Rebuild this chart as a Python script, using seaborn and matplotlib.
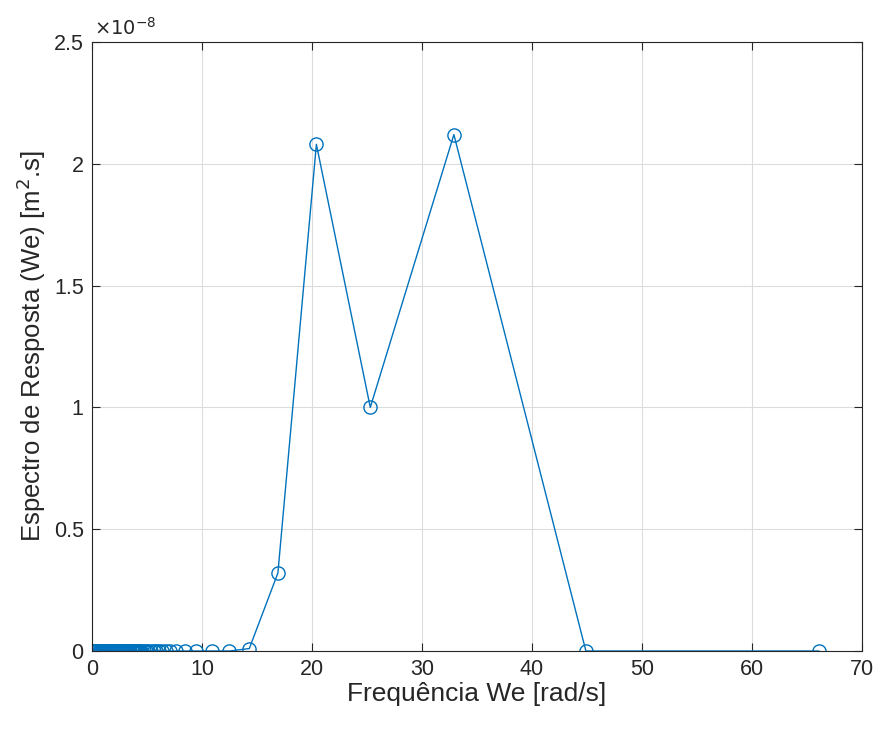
import matplotlib
matplotlib.use("Agg")
import matplotlib.pyplot as plt
import seaborn as sns
import pandas as pd
from matplotlib.ticker import FuncFormatter

# Encounter frequencies [rad/s]
freq_we = [0.1, 0.2, 0.3, 0.4, 0.5, 0.6, 0.7, 0.8, 0.9, 1.0, 1.1, 1.2, 1.3,
           1.4, 1.5, 1.6, 1.7, 1.8, 1.9, 2.0, 2.1, 2.2, 2.3, 2.4, 2.5, 2.6,
           2.7, 2.8, 2.9, 3.0, 3.1, 3.2, 3.3, 3.4, 3.5, 3.6, 3.7, 3.8, 3.9,
           4.0, 4.1, 4.2, 4.3, 4.4, 4.5, 4.7, 4.9, 5.1, 5.35, 5.6, 5.85, 6.1,
           6.4, 6.7, 7.1, 7.6, 8.5, 9.5, 10.9, 12.5, 14.3, 16.9, 20.4, 25.3,
           32.9, 44.9, 66.1]

# Response spectrum [m^2.s]
spectrum = [0.0] * 60 + [0.01e-8, 0.32e-8, 2.08e-8, 1.00e-8, 2.12e-8, 0.0, 0.0]

x_ticks = [0, 10, 20, 30, 40, 50, 60, 70]
y_ticks = [0, 0.5e-8, 1.0e-8, 1.5e-8, 2.0e-8, 2.5e-8]

line_color = "#0072BD"
text_color = "#262626"

sns.set_theme(style="white")
plt.rcParams["font.family"] = ["Liberation Sans", "DejaVu Sans"]

fig = plt.figure(figsize=(8.82, 7.29), dpi=100)
ax = fig.add_axes([0.1043, 0.107, 0.8730, 0.8354])

df = pd.DataFrame({"we": freq_we, "S": spectrum})
sns.lineplot(data=df, x="we", y="S", ax=ax, sort=False, estimator=None,
             color=line_color, linewidth=1.0, marker="o", markersize=9.5,
             markerfacecolor="none", markeredgecolor=line_color,
             markeredgewidth=1.0)

ax.set_xlim(0, 70)
ax.set_ylim(0, 2.5e-8)
ax.set_xticks(x_ticks)
ax.set_yticks(y_ticks)
ax.yaxis.set_major_formatter(FuncFormatter(lambda v, p: f"{v / 1e-8:g}"))

ax.grid(True, color="#dcdcdc", linewidth=0.8)
ax.set_axisbelow(True)
for s in ax.spines.values():
    s.set_color(text_color)
    s.set_linewidth(0.8)
ax.tick_params(axis="both", direction="in", length=6, width=0.8,
               top=True, right=True, bottom=True, left=True,
               colors=text_color, labelsize=15.5, pad=6)

ax.set_xlabel("Frequência We [rad/s]", fontsize=19, color=text_color, labelpad=1)
ax.set_ylabel("Espectro de Resposta (We) [m$^2$.s]", fontsize=18.5,
              color=text_color, labelpad=4)

ax.text(0.003, 1.006, r"$\times10^{-8}$", transform=ax.transAxes,
        fontsize=14, color=text_color, ha="left", va="bottom")

fig.savefig("out.png", dpi=100, facecolor="white")
